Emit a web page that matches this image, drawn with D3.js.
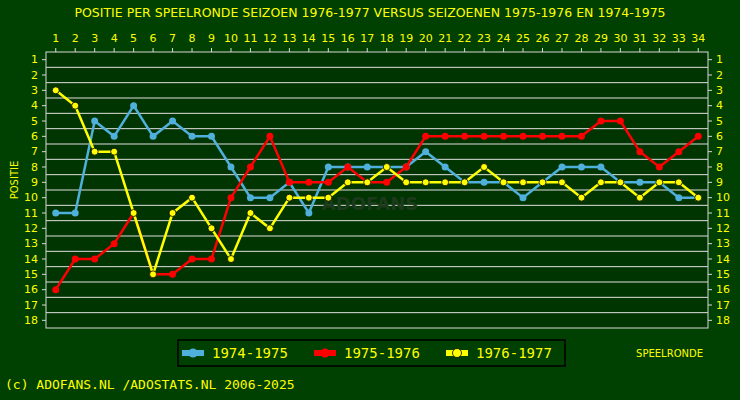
<!DOCTYPE html>
<html><head><meta charset="utf-8">
<script src="https://cdn.jsdelivr.net/npm/d3@7"></script>
<style>body{margin:0;background:#004000}svg{display:block}</style>
</head><body>
<svg id="c" width="740" height="400"></svg>
<script>
var rounds = d3.range(1, 35);
var positions = d3.range(1, 19);
var s7475 = [11,11,5,6,4,6,5,6,6,8,10,10,9,11,8,8,8,8,8,7,8,9,9,9,10,9,8,8,8,9,9,9,10,10];
var s7576 = [16,14,14,13,11,15,15,14,14,10,8,6,9,9,9,8,9,9,8,6,6,6,6,6,6,6,6,6,5,5,7,8,7,6];
var s7677 = [3,4,7,7,11,15,11,10,12,14,11,12,10,10,10,9,9,8,9,9,9,9,8,9,9,9,9,10,9,9,10,9,9,10];
var series = [
  {name: "1974-1975", color: "#4fb0dc", outline: null, data: s7475},
  {name: "1975-1976", color: "#ff0000", outline: null, data: s7576},
  {name: "1976-1977", color: "#ffff00", outline: "#000", data: s7677}
];

var svg = d3.select("#c");
var font = "Verdana, 'DejaVu Sans', sans-serif";
var mono = "'DejaVu Sans Mono', monospace";
var yellow = "#ffff00";
svg.append("rect").attr("width", 740).attr("height", 400).attr("fill", "#004000");

var x = d3.scaleBand().domain(rounds).range([46, 708]);
var y = d3.scaleBand().domain(positions).range([52, 328]);
var cx = function(d){ return x(d) + x.bandwidth()/2; };
var cy = function(d){ return y(d) + y.bandwidth()/2; };

svg.append("rect").attr("x", 46).attr("y", 52).attr("width", 662).attr("height", 276).attr("fill", "#003400");
svg.selectAll("line.g").data(positions.slice(1)).enter().append("line")
  .attr("x1", 46).attr("x2", 708).attr("y1", function(d){ return y(d); }).attr("y2", function(d){ return y(d); })
  .attr("stroke", "#e0e0e0").attr("stroke-width", 1);
svg.append("rect").attr("x", 46).attr("y", 52).attr("width", 662).attr("height", 276)
  .attr("fill", "none").attr("stroke", "#d8d8d8");

function axis(g, a){ g.call(a); g.select(".domain").remove(); g.selectAll("line").attr("stroke", "#d8d8d8");
  g.selectAll("text").attr("fill", yellow).attr("font-family", font).attr("font-size", 11); }
svg.append("g").attr("transform", "translate(0,52)").call(function(g){ axis(g, d3.axisTop(x).tickSize(4).tickPadding(6)); });
svg.append("g").attr("transform", "translate(46,0)").call(function(g){ axis(g, d3.axisLeft(y).tickSize(4).tickPadding(4)); });
svg.append("g").attr("transform", "translate(708,0)").call(function(g){ axis(g, d3.axisRight(y).tickSize(4).tickPadding(4)); });

svg.append("text").attr("x", 370).attr("y", 210).attr("text-anchor", "middle").attr("fill", "#1e3a1e")
  .attr("font-family", font).attr("font-weight", "bold").attr("font-size", 18).text("ADOFANS");

var line = d3.line().x(function(d, i){ return cx(rounds[i]); }).y(function(d){ return cy(d); });
series.forEach(function(s){
  svg.append("path").attr("d", line(s.data)).attr("fill", "none").attr("stroke", s.color).attr("stroke-width", 2.5);
  svg.selectAll(null).data(s.data).enter().append("circle")
    .attr("cx", function(d, i){ return cx(rounds[i]); }).attr("cy", function(d){ return cy(d); })
    .attr("r", 3.5).attr("fill", s.color).attr("stroke", s.outline).attr("stroke-width", 0.8);
});

svg.append("text").attr("x", 370).attr("y", 17).attr("text-anchor", "middle").attr("fill", yellow)
  .attr("font-family", font).attr("font-size", 12.5).text("POSITIE PER SPEELRONDE SEIZOEN 1976-1977 VERSUS SEIZOENEN 1975-1976 EN 1974-1975");
svg.append("text").attr("transform", "translate(18,180) rotate(-90)").attr("text-anchor", "middle").attr("fill", yellow)
  .attr("font-family", font).attr("font-size", 10).text("POSITIE");
svg.append("text").attr("x", 703).attr("y", 357).attr("text-anchor", "end").attr("fill", yellow)
  .attr("font-family", font).attr("font-size", 10).text("SPEELRONDE");
svg.append("text").attr("x", 5).attr("y", 389).attr("fill", yellow)
  .attr("font-family", mono).attr("font-size", 13).text("(c) ADOFANS.NL /ADOSTATS.NL 2006-2025");

var lg = svg.append("g");
lg.append("rect").attr("x", 178).attr("y", 340).attr("width", 387).attr("height", 26).attr("fill", "none").attr("stroke", "#000").attr("stroke-width", 1.5);
series.forEach(function(s, i){
  var lx = 182 + i * 132;
  lg.append("rect").attr("x", lx).attr("y", 350).attr("width", 22).attr("height", 6).attr("fill", s.color);
  lg.append("circle").attr("cx", lx + 11).attr("cy", 353).attr("r", 4.5).attr("fill", s.color).attr("stroke", s.outline).attr("stroke-width", 0.8);
  lg.append("text").attr("x", lx + 30).attr("y", 358).attr("fill", yellow).attr("font-family", mono)
    .attr("font-size", 14).text(s.name);
});
</script>
</body></html>
